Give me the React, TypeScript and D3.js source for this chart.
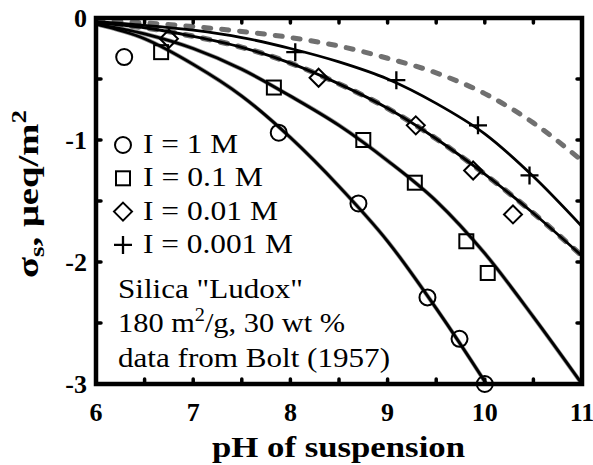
import React, { useEffect, useRef } from "react";
import * as d3 from "d3";

// pH grid used for the model curves
const phGrid = [6, 6.5, 7, 7.5, 8, 8.5, 9, 9.5, 10, 10.5, 11];

// model curves (charge, ueq/m2)
const fit1M = [-0.05, -0.17, -0.38, -0.64, -0.98, -1.38, -1.83, -2.38, -2.98, -3.62, -4.3];
const fit01M = [-0.05, -0.13, -0.25, -0.42, -0.64, -0.88, -1.17, -1.5, -1.93, -2.45, -3.0];
const fit001M = [-0.04, -0.08, -0.15, -0.24, -0.37, -0.54, -0.74, -0.99, -1.28, -1.6, -1.95];
const fit0001M = [-0.03, -0.06, -0.1, -0.16, -0.25, -0.36, -0.5, -0.7, -0.95, -1.3, -1.71];
const fitDashedTop = [-0.02, -0.04, -0.07, -0.11, -0.16, -0.23, -0.33, -0.45, -0.62, -0.86, -1.17];

// measured points (Bolt 1957)
const circlePH = [6.29, 7.88, 8.7, 9.41, 9.74, 10.0];
const circleVal = [-0.32, -0.94, -1.52, -2.29, -2.63, -3.0];
const squarePH = [6.67, 7.83, 8.75, 9.28, 9.81, 10.03];
const squareVal = [-0.28, -0.57, -1.0, -1.35, -1.83, -2.09];
const diamondPH = [6.75, 8.29, 9.29, 9.88, 10.29];
const diamondVal = [-0.17, -0.49, -0.88, -1.25, -1.61];
const plusPH = [8.05, 9.09, 9.93, 10.46];
const plusVal = [-0.28, -0.51, -0.88, -1.29];

// tick labels
const xTicks = [6, 7, 8, 9, 10, 11];
const yTicks = [0, -1, -2, -3];
const legendLabels = ["I = 1 M", "I = 0.1 M", "I = 0.01 M", "I = 0.001 M"];
const legendShapes = ["circle", "square", "diamond", "plus"];
const noteLines = ['Silica "Ludox"', "180 m", "data from Bolt (1957)"];

export default function App() {
  const ref = useRef<SVGSVGElement>(null);

  useEffect(() => {
    var svg = d3.select(ref.current);
    svg.selectAll("*").remove();

    var font = "Liberation Serif, Times New Roman, Times, serif";
    var left = 96, right = 582, top = 18, bottom = 384;

    var x = d3.scaleLinear().domain([6, 11]).range([left, right]);
    var y = d3.scaleLinear().domain([-3, 0]).range([bottom, top]);

    svg
      .append("defs")
      .append("clipPath")
      .attr("id", "plotClip")
      .append("rect")
      .attr("x", left)
      .attr("y", top)
      .attr("width", right - left)
      .attr("height", bottom - top);

    var line = d3
      .line<number>()
      .x((d, i) => x(phGrid[i]))
      .y((d) => y(d))
      .curve(d3.curveMonotoneX);

    var curves = svg.append("g").attr("clip-path", "url(#plotClip)");

    // gray model curves first
    curves
      .append("path")
      .attr("d", line(fitDashedTop))
      .attr("fill", "none")
      .attr("stroke", "#707070")
      .attr("stroke-width", 5)
      .attr("stroke-dasharray", "7,11")
      .attr("stroke-linecap", "round");
    curves
      .append("path")
      .attr("d", line(fit001M))
      .attr("fill", "none")
      .attr("stroke", "#707070")
      .attr("stroke-width", 5.5)
      .attr("stroke-dasharray", "7,11")
      .attr("stroke-linecap", "round");
    [fit1M, fit01M].forEach((c) => {
      curves
        .append("path")
        .attr("d", line(c))
        .attr("fill", "none")
        .attr("stroke", "#909090")
        .attr("stroke-width", 4.2);
    });

    // black model curves
    [fit1M, fit01M, fit001M, fit0001M].forEach((c) => {
      curves
        .append("path")
        .attr("d", line(c))
        .attr("fill", "none")
        .attr("stroke", "#000")
        .attr("stroke-width", 2.8);
    });

    // marker drawing
    function marker(g: any, shape: string, cx: number, cy: number) {
      if (shape === "circle") {
        g.append("circle").attr("cx", cx).attr("cy", cy).attr("r", 8)
          .attr("fill", "none").attr("stroke", "#000").attr("stroke-width", 2);
      } else if (shape === "square") {
        g.append("rect").attr("x", cx - 7).attr("y", cy - 7).attr("width", 14).attr("height", 14)
          .attr("fill", "none").attr("stroke", "#000").attr("stroke-width", 2);
      } else if (shape === "diamond") {
        g.append("path")
          .attr("d", `M${cx},${cy - 9}L${cx + 9},${cy}L${cx},${cy + 9}L${cx - 9},${cy}Z`)
          .attr("fill", "none").attr("stroke", "#000").attr("stroke-width", 2);
      } else {
        g.append("path")
          .attr("d", `M${cx - 9},${cy}H${cx + 9}M${cx},${cy - 9}V${cy + 9}`)
          .attr("fill", "none").attr("stroke", "#000").attr("stroke-width", 2.3);
      }
    }

    var pts = svg.append("g");
    circlePH.forEach((p, i) => marker(pts, "circle", x(p), y(circleVal[i])));
    squarePH.forEach((p, i) => marker(pts, "square", x(p), y(squareVal[i])));
    diamondPH.forEach((p, i) => marker(pts, "diamond", x(p), y(diamondVal[i])));
    plusPH.forEach((p, i) => marker(pts, "plus", x(p), y(plusVal[i])));

    // frame and inward ticks
    var frame = svg.append("g");
    d3.range(6.5, 11, 0.5).forEach((t) => {
      frame.append("line").attr("x1", x(t)).attr("x2", x(t)).attr("y1", bottom).attr("y2", bottom - 5)
        .attr("stroke", "#000").attr("stroke-width", 3.5).attr("stroke-linecap", "round");
      frame.append("line").attr("x1", x(t)).attr("x2", x(t)).attr("y1", top).attr("y2", top + 5)
        .attr("stroke", "#000").attr("stroke-width", 3.5).attr("stroke-linecap", "round");
    });
    d3.range(-2.5, 0, 0.5).forEach((t) => {
      frame.append("line").attr("x1", left).attr("x2", left + 5).attr("y1", y(t)).attr("y2", y(t))
        .attr("stroke", "#000").attr("stroke-width", 3.5).attr("stroke-linecap", "round");
      frame.append("line").attr("x1", right).attr("x2", right - 5).attr("y1", y(t)).attr("y2", y(t))
        .attr("stroke", "#000").attr("stroke-width", 3.5).attr("stroke-linecap", "round");
    });
    frame.append("rect").attr("x", left).attr("y", top)
      .attr("width", right - left).attr("height", bottom - top)
      .attr("fill", "none").attr("stroke", "#000").attr("stroke-width", 4.5);

    // tick labels
    xTicks.forEach((t) => {
      svg.append("text").attr("x", x(t)).attr("y", 421).attr("text-anchor", "middle")
        .style("font-family", font).style("font-weight", "bold").style("font-size", "26px")
        .text(t);
    });
    yTicks.forEach((t) => {
      svg.append("text").attr("x", 87).attr("y", y(t) + 9).attr("text-anchor", "end")
        .style("font-family", font).style("font-weight", "bold").style("font-size", "26px")
        .text(t);
    });

    // legend
    var legendWidths = [95, 120, 135, 150];
    legendLabels.forEach((lab, i) => {
      var by = 153 + i * 33.3;
      marker(svg, legendShapes[i], 123, by - 8);
      svg.append("text").attr("x", 143).attr("y", by)
        .attr("textLength", legendWidths[i]).attr("lengthAdjust", "spacingAndGlyphs")
        .style("font-family", font).style("font-size", "27px")
        .text(lab);
    });

    // note text
    svg.append("text").attr("x", 118).attr("y", 298)
      .attr("textLength", 185).attr("lengthAdjust", "spacingAndGlyphs")
      .style("font-family", font).style("font-size", "27px").text(noteLines[0]);
    var t2 = svg.append("text").attr("x", 118).attr("y", 332)
      .attr("textLength", 227).attr("lengthAdjust", "spacingAndGlyphs")
      .style("font-family", font).style("font-size", "27px");
    t2.append("tspan").text(noteLines[1]);
    t2.append("tspan").attr("dy", -11).style("font-size", "18px").text("2");
    t2.append("tspan").attr("dy", 11).text("/g, 30 wt %");
    svg.append("text").attr("x", 118).attr("y", 367)
      .attr("textLength", 272).attr("lengthAdjust", "spacingAndGlyphs")
      .style("font-family", font).style("font-size", "27px").text(noteLines[2]);

    // x axis title
    svg.append("text").attr("x", 212).attr("y", 457)
      .attr("textLength", 253).attr("lengthAdjust", "spacingAndGlyphs")
      .style("font-family", font).style("font-weight", "bold").style("font-size", "29px")
      .text("pH of suspension");

    // y axis title
    var yt = svg.append("text")
      .attr("transform", "translate(38,278) rotate(-90)")
      .attr("textLength", 168).attr("lengthAdjust", "spacingAndGlyphs")
      .style("font-family", font).style("font-weight", "bold").style("font-size", "30px");
    yt.append("tspan").text("σ");
    yt.append("tspan").attr("dy", 6).style("font-size", "21px").text("s");
    yt.append("tspan").attr("dy", -6).text(", μeq/m");
    yt.append("tspan").attr("dy", -12).style("font-size", "21px").text("2");
  }, []);

  return (
    <svg
      ref={ref}
      width={593}
      height={465}
      style={{ position: "absolute", left: 0, top: 0, background: "#fff" }}
    ></svg>
  );
}
